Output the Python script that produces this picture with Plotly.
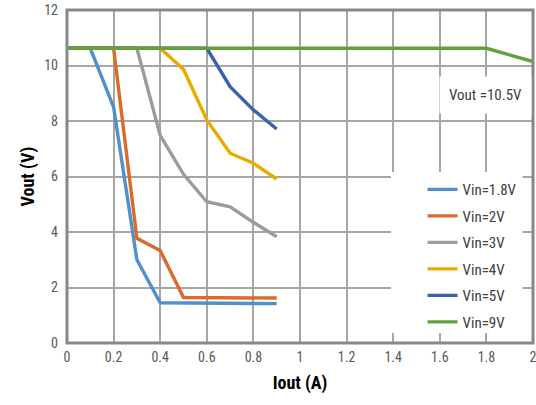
import plotly.graph_objects as go

names = ["Vin=1.8V", "Vin=2V", "Vin=3V", "Vin=4V", "Vin=5V", "Vin=9V"]
colors = ["#5090CB", "#D96B2B", "#9C9C9C", "#E8AC00", "#3B62AF", "#64A13D"]

x_18 = [0, 0.1, 0.2, 0.3, 0.4, 0.5, 0.6, 0.7, 0.8, 0.9]
y_18 = [10.62, 10.62, 8.5, 3.0, 1.45, 1.44, 1.44, 1.43, 1.43, 1.42]
x_2 = [0, 0.1, 0.2, 0.3, 0.4, 0.5, 0.6, 0.7, 0.8, 0.9]
y_2 = [10.62, 10.62, 10.62, 3.77, 3.33, 1.64, 1.63, 1.63, 1.62, 1.62]
x_3 = [0, 0.1, 0.2, 0.3, 0.4, 0.5, 0.6, 0.7, 0.8, 0.9]
y_3 = [10.62, 10.62, 10.62, 10.62, 7.48, 6.08, 5.09, 4.91, 4.35, 3.83]
x_4 = [0, 0.1, 0.2, 0.3, 0.4, 0.5, 0.6, 0.7, 0.8, 0.9]
y_4 = [10.62, 10.62, 10.62, 10.62, 10.62, 9.86, 8.04, 6.84, 6.48, 5.91]
x_5 = [0, 0.1, 0.2, 0.3, 0.4, 0.5, 0.6, 0.7, 0.8, 0.9]
y_5 = [10.62, 10.62, 10.62, 10.62, 10.62, 10.62, 10.62, 9.24, 8.4, 7.71]
x_9 = [0, 0.2, 0.4, 0.6, 0.8, 1.0, 1.2, 1.4, 1.6, 1.8, 2.0]
y_9 = [10.62, 10.62, 10.62, 10.62, 10.62, 10.6, 10.59, 10.6, 10.61, 10.62, 10.14]

xs = [x_18, x_2, x_3, x_4, x_5, x_9]
ys = [y_18, y_2, y_3, y_4, y_5, y_9]

x_ticks = [0, 0.2, 0.4, 0.6, 0.8, 1, 1.2, 1.4, 1.6, 1.8, 2]
x_tick_text = ["0", "0.2", "0.4", "0.6", "0.8", "1", "1.2", "1.4", "1.6", "1.8", "2"]
y_ticks = [0, 2, 4, 6, 8, 10, 12]

FONT = "Roboto Condensed, Liberation Sans Narrow, sans-serif"

fig = go.Figure()
for n, c, x, y in zip(names, colors, xs, ys):
    fig.add_trace(go.Scatter(x=x, y=y, mode="lines", name=n, legendgroup=n,
                             line=dict(color=c, width=3.4)))

# white panel behind the legend, hiding the grid as in the reference
fig.add_shape(type="rect", xref="x", yref="y", x0=1.39, x1=1.955, y0=0.36, y1=6.16,
              fillcolor="white", line_width=0, layer="above")
# plot frame
fig.add_shape(type="rect", xref="paper", yref="paper", x0=0, x1=1, y0=0, y1=1,
              line=dict(color="#888888", width=3), fillcolor="rgba(0,0,0,0)", layer="above")

fig.add_annotation(x=1.795, y=8.95, xref="x", yref="y", text="Vout =10.5V",
                   showarrow=False, bgcolor="white", borderpad=9,
                   font=dict(family=FONT, size=15, color="#404040"))

fig.update_layout(
    width=536, height=405,
    margin=dict(l=67, r=3, t=10, b=62),
    paper_bgcolor="white", plot_bgcolor="white",
    font=dict(family=FONT, size=14, color="#595959"),
    showlegend=True,
    legend=dict(x=0.763, y=0.51, xanchor="left", yanchor="top",
                bgcolor="rgba(0,0,0,0)", borderwidth=0, tracegroupgap=4,
                font=dict(family=FONT, size=15, color="#404040"),
                itemwidth=30),
    xaxis=dict(range=[0, 2], tickvals=x_ticks, ticktext=x_tick_text,
               showgrid=True, gridcolor="#A6A6A6", gridwidth=1.5,
               showline=False, zeroline=False, ticks="", ticklabelstandoff=4,
               automargin=False, ticklabeloverflow="allow",
               title=dict(text="<b>Iout (A)</b>", font=dict(family=FONT, size=18, color="black"), standoff=12)),
    yaxis=dict(range=[0, 12], tickvals=y_ticks,
               showgrid=True, gridcolor="#A6A6A6", gridwidth=1.5,
               showline=False, zeroline=False, ticks="", ticklabelstandoff=8,
               automargin=False, ticklabeloverflow="allow",
               title=dict(text="<b>Vout (V)</b>", font=dict(family=FONT, size=18, color="black"), standoff=4)),
)

fig.write_html("out.html", config={"displayModeBar": False},
               post_script="document.body.style.margin='0';"
                           "document.body.style.overflow='hidden';"
                           "document.documentElement.style.overflow='hidden';")
